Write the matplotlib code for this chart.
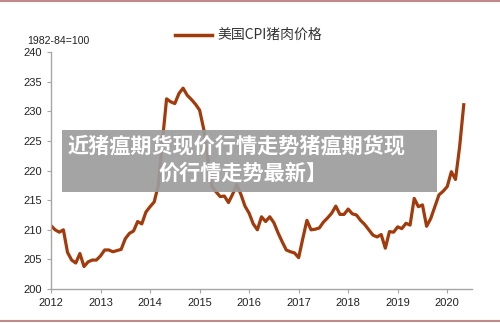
import numpy as np
import matplotlib
matplotlib.use("Agg")
import matplotlib.pyplot as plt
from matplotlib.lines import Line2D
from matplotlib.patches import Rectangle

plt.rcParams['font.family'] = ['Liberation Sans', 'Noto Sans CJK SC', 'DejaVu Sans']

# US CPI pork price index, monthly from Jan 2012 (1982-84=100)
start_year = 2012
pork_cpi = [
    210.7, 210.0, 209.6, 210.0, 206.2, 204.9, 204.4, 206.0, 203.8, 204.6, 204.9, 204.9,
    205.6, 206.6, 206.6, 206.3, 206.5, 206.7, 208.5, 209.4, 209.8, 211.4, 211.0, 213.0,
    213.9, 214.7, 217.5, 225.0, 232.1, 231.6, 231.3, 233.0, 233.9, 232.7, 232.0, 231.2,
    230.2, 227.0, 222.0, 217.3, 216.4, 215.6, 215.7, 214.6, 216.0, 217.6, 216.0, 214.0,
    212.8, 211.0, 210.0, 212.2, 211.4, 212.2, 211.2, 209.5, 208.0, 206.6, 206.3, 206.1,
    205.3, 208.5, 211.6, 210.0, 210.1, 210.3, 211.3, 212.0, 212.8, 214.0, 212.6, 212.6,
    213.5, 212.7, 212.5, 211.6, 210.9, 210.0, 209.1, 208.8, 209.2, 206.9, 209.7, 209.6,
    210.5, 210.2, 211.1, 210.8, 215.3, 213.9, 214.2, 210.6, 211.9, 213.9, 215.9, 216.5,
    217.3, 219.8, 218.5, 224.0, 231.1,
]
year_ticks = list(range(2012, 2021))
y_ticks = [200, 205, 210, 215, 220, 225, 230, 235, 240]

legend_label = "美国CPI猪肉价格"
unit_label = "1982-84=100"
overlay_lines = ["近猪瘟期货现价行情走势猪瘟期货现", "价行情走势最新】"]

x = start_year + np.arange(len(pork_cpi)) / 12.0
line_color = "#A23B0C"
axis_color = "#A6A6A6"

fig = plt.figure(figsize=(5, 3.23), dpi=100)
ax = fig.add_axes([0.102, 0.105, 0.842, 0.734])

ax.plot(x, pork_cpi, color=line_color, linewidth=2.3, solid_joinstyle="round")

ax.set_xlim(2012, 2020.5)
ax.set_ylim(200, 240)
ax.set_xticks(year_ticks)
ax.set_yticks(y_ticks)
ax.tick_params(labelsize=8, colors="#222222", length=3, width=0.8, direction="out")
ax.tick_params(axis="both", color=axis_color)
for side in ["top", "right"]:
    ax.spines[side].set_visible(False)
for side in ["left", "bottom"]:
    ax.spines[side].set_color(axis_color)
    ax.spines[side].set_linewidth(1.0)

fig.text(27 / 500, 1 - 41 / 323, unit_label, fontsize=7.6, color="#222222", va="center", ha="left")

# legend drawn by hand at the top
fig.add_artist(Line2D([175 / 500, 212 / 500], [1 - 35 / 323, 1 - 35 / 323],
                      color=line_color, linewidth=2.5, transform=fig.transFigure))
fig.text(217 / 500, 1 - 35 / 323, legend_label, fontsize=10, color="#333333",
         va="center", ha="left", family=['Noto Sans CJK SC', 'DejaVu Sans'])

# grey caption overlay
fig.add_artist(Rectangle((62 / 500, 1 - 192 / 323), 375 / 500, 62 / 323,
                         transform=fig.transFigure, facecolor="#9C9C9C", alpha=0.92,
                         edgecolor="none", zorder=5))
fig.text(237 / 500, 1 - 146 / 323, overlay_lines[0], fontsize=15.2, color="white",
         fontweight="bold", ha="center", va="center", zorder=6,
         family=['Noto Sans CJK SC', 'DejaVu Sans'])
fig.text(243 / 500, 1 - 173 / 323, overlay_lines[1], fontsize=15.2, color="white",
         fontweight="bold", ha="center", va="center", zorder=6,
         family=['Noto Sans CJK SC', 'DejaVu Sans'])

# thin border lines top and bottom
for yy in [1 - 1 / 323, 1 - 321 / 323]:
    fig.add_artist(Line2D([0, 1], [yy, yy], color="#C08A8A", linewidth=1.5,
                          transform=fig.transFigure))

fig.savefig("out.png", dpi=100)
